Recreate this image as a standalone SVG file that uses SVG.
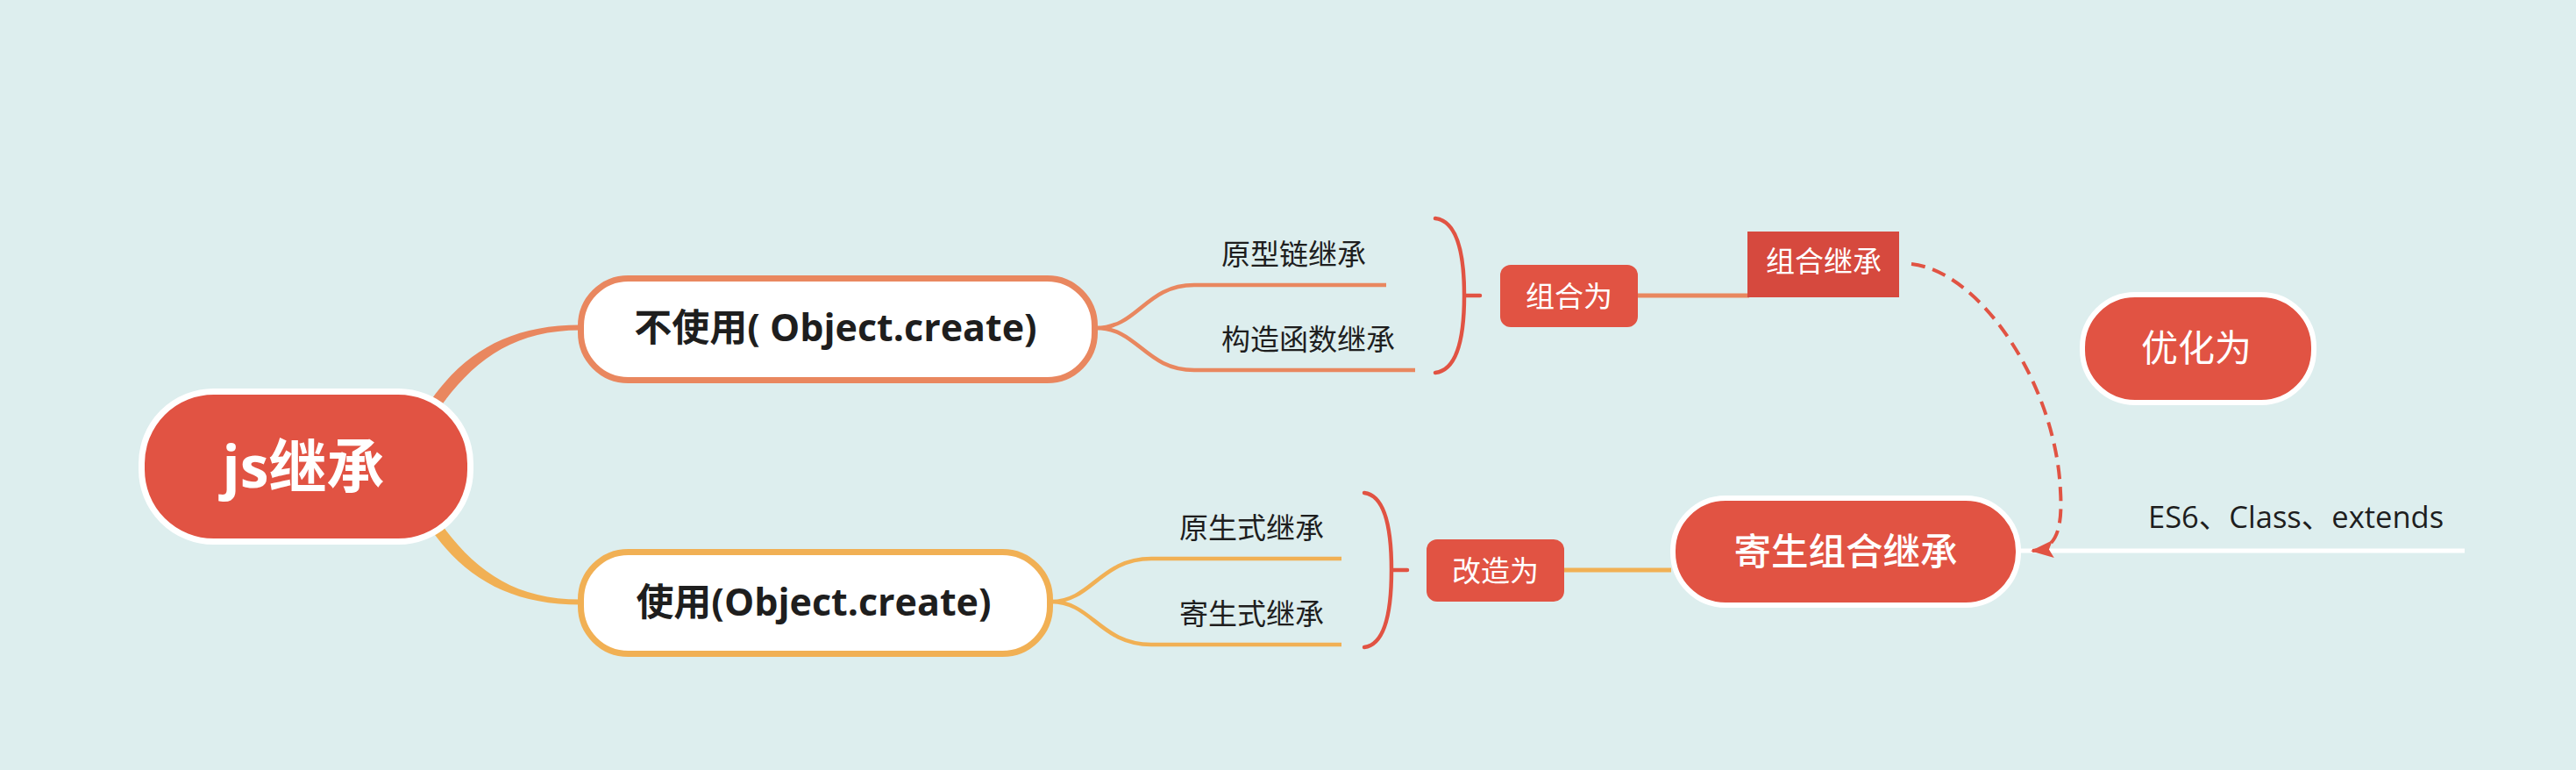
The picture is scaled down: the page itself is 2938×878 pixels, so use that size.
<svg xmlns="http://www.w3.org/2000/svg" width="2938" height="878" viewBox="0 0 2938 878">
<defs>
<style>
text{font-family:"Open Sans","Noto Sans CJK SC",sans-serif}
.w{fill:#ffffff}
.b{font-weight:bold}
.m{font-weight:500}
.dark{fill:#1e1e1e}
.red{fill:#e15343}
.brk{fill:none;stroke:#e15343;stroke-width:4.5;stroke-linecap:round}
.or{fill:none;stroke:#e9875f;stroke-width:4.5}
.ye{fill:none;stroke:#f1b054;stroke-width:4.5}
</style>
<marker id="arr" viewBox="0 0 26 20" refX="24" refY="10" markerWidth="26" markerHeight="20" markerUnits="userSpaceOnUse" orient="auto">
<path d="M0,0 L26,10 L0,20 L5,10 z" fill="#e15343"/>
</marker>
</defs>
<rect width="2938" height="878" fill="#ddeeee"/>
<g id="connectors">
<path d="M484.6 466.4 C525 404 578 370.5 662 370.5 L662 376.5 C582 376.5 536 414 495.4 473.6 Z" fill="#e9875f"/>
<path d="M484.6 593.6 C525 656 578 689.5 662 689.5 L662 683.5 C582 683.5 536 646 495.4 586.4 Z" fill="#f1b054"/>
<path class="or" d="M1250 374 C1298 374 1306 325 1362 325 L1581 325"/>
<path class="or" d="M1250 374 C1298 374 1306 422 1362 422 L1614 422"/>
<path class="ye" d="M1199 686 C1245 686 1255 637 1313 637 L1530 637"/>
<path class="ye" d="M1199 686 C1245 686 1255 735 1313 735 L1530 735"/>
<path class="brk" d="M1637 249 C1662 252 1670 290 1670 337 C1670 384 1662 422 1637 425 M1670 337 L1688 337"/>
<path class="brk" d="M1556 562 C1580 565 1587 605 1587 650 C1587 695 1580 735 1556 738 M1587 650 L1605 650"/>
<line x1="1868" y1="337" x2="1995" y2="337" stroke="#e9875f" stroke-width="5"/>
<line x1="1784" y1="650" x2="1906" y2="650" stroke="#f1b054" stroke-width="5"/>
<line x1="2300" y1="628" x2="2811" y2="628" stroke="#ffffff" stroke-width="5"/>
<path d="M2180 301 C2260 310 2345 440 2350 560 C2353 610 2342 626 2318 628" fill="none" stroke="#e15343" stroke-width="4" stroke-dasharray="16 9" marker-end="url(#arr)"/>
</g>
<g id="root">
<rect x="161.5" y="446.5" width="375" height="171" rx="82" ry="82" fill="#e15343" stroke="#ffffff" stroke-width="7"/>
<text x="346" y="556" font-size="66" text-anchor="middle" class="w b">js继承</text>
</g>
<g id="n-no-create">
<rect x="662.5" y="317.5" width="586" height="116" rx="54" ry="54" fill="#ffffff" stroke="#e9875f" stroke-width="7"/>
<text x="953" y="389" font-size="43" text-anchor="middle" class="dark b">不使用( Object.create)</text>
</g>
<g id="n-create">
<rect x="662.5" y="629.5" width="535" height="116" rx="54" ry="54" fill="#ffffff" stroke="#f1b054" stroke-width="7"/>
<text x="928" y="702" font-size="43" text-anchor="middle" class="dark b">使用(Object.create)</text>
</g>
<g id="c-proto">
<text x="1393" y="302" font-size="33" class="dark">原型链继承</text>
</g>
<g id="c-ctor">
<text x="1393" y="399" font-size="33" class="dark">构造函数继承</text>
</g>
<g id="c-prototypal">
<text x="1345" y="614" font-size="33" class="dark">原生式继承</text>
</g>
<g id="c-parasitic">
<text x="1345" y="712" font-size="33" class="dark">寄生式继承</text>
</g>
<g id="s-combine">
<rect x="1711" y="302" width="157" height="71" rx="12" ry="12" class="red"/>
<text x="1789.5" y="350" font-size="33" text-anchor="middle" class="w">组合为</text>
</g>
<g id="s-reform">
<rect x="1627" y="615" width="157" height="71" rx="12" ry="12" class="red"/>
<text x="1705.5" y="663" font-size="33" text-anchor="middle" class="w">改造为</text>
</g>
<g id="n-combo">
<rect x="1993" y="264" width="173" height="75" fill="#d6493e"/>
<text x="2080" y="310" font-size="33" text-anchor="middle" class="w">组合继承</text>
</g>
<g id="n-optimize">
<rect x="2375" y="336" width="264" height="123" rx="60" ry="60" fill="#e15343" stroke="#ffffff" stroke-width="6"/>
<text x="2505" y="412" font-size="42" text-anchor="middle" class="w">优化为</text>
</g>
<g id="n-parasitic-combo">
<rect x="1908" y="568" width="394" height="122" rx="60" ry="60" fill="#e15343" stroke="#ffffff" stroke-width="6"/>
<text x="2105" y="644" font-size="42.5" text-anchor="middle" class="w m">寄生组合继承</text>
</g>
<g id="c-es6">
<text x="2450" y="602" font-size="34.5" class="dark">ES6、Class、extends</text>
</g>
</svg>
